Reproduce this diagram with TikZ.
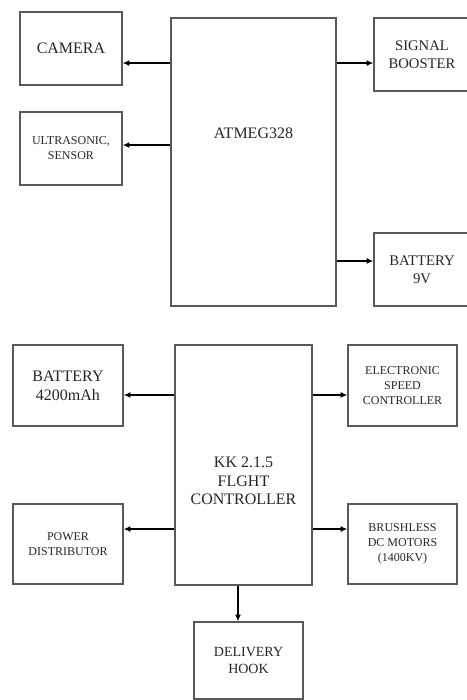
\documentclass[tikz,border=0pt]{standalone}
\usepackage{fontspec}
\setmainfont{Liberation Serif}
\usetikzlibrary{arrows.meta, positioning, calc}

\newcommand{\bigtext}{\fontsize{12}{14}\selectfont}
\newcommand{\midtext}{\fontsize{11}{13.5}\selectfont}
\newcommand{\hooktext}{\fontsize{10.5}{12.8}\selectfont}
\newcommand{\smalltext}{\fontsize{9}{11.3}\selectfont}

\begin{document}
\begin{tikzpicture}[
    x=0.75pt, y=-0.75pt,
    block/.style={draw=black!65, line width=1pt, rectangle, align=center, text=black!85, inner sep=1pt},
    sidebox/.style={block, minimum width=76.5pt, minimum height=54.75pt},
    rightbox/.style={block, minimum width=72pt, minimum height=54.75pt},
    unitbox/.style={block, minimum width=82.5pt, minimum height=60.75pt},
    flow/.style={-{Latex[length=5pt, width=4.5pt]}, line width=1pt}
]
\useasboundingbox (0,0) rectangle (467,700);

% upper board
\node[block, minimum width=123.75pt, minimum height=216pt,
      label={[font=\bigtext, text=black!85, yshift=21.75pt]center:ATMEG328}] (atmeg) at (253.5,162) {};
\node[sidebox, font=\bigtext] (camera) at (71,48.5) {CAMERA};
\node[sidebox, font=\smalltext] (ultra) at (71,148.5) {ULTRASONIC,\\SENSOR};
\node[rightbox, font=\midtext] (booster) at (422,54.5) {SIGNAL\\BOOSTER};
\node[rightbox, font=\midtext] (batnine) at (422,269.5) {BATTERY\\9V};

\draw[flow] ([yshift=-10.9pt]camera.east -| atmeg.west) -- ([yshift=-10.9pt]camera.east);
\draw[flow] ([yshift=2.6pt]ultra.east -| atmeg.west) -- ([yshift=2.6pt]ultra.east);
\draw[flow] ([yshift=-6.4pt]booster.west -| atmeg.east) -- ([yshift=-6.4pt]booster.west);
\draw[flow] ([yshift=6.4pt]batnine.west -| atmeg.east) -- ([yshift=6.4pt]batnine.west);

% flight controller board
\node[block, minimum width=102.75pt, minimum height=180pt,
      label={[font=\bigtext, text=black!85, align=center, yshift=-12pt]center:{KK 2.1.5\\FLGHT\\CONTROLLER}}] (kk) at (243.5,465) {};
\node[unitbox, font=\bigtext] (batbig) at (68,385.5) {BATTERY\\4200mAh};
\node[unitbox, font=\smalltext, minimum width=81.75pt] (esc) at (402.5,385.5) {ELECTRONIC\\SPEED\\CONTROLLER};
\node[unitbox, font=\smalltext, minimum height=60pt] (power) at (68,544) {POWER\\DISTRIBUTOR};
\node[unitbox, font=\smalltext, minimum width=81.75pt, minimum height=60pt] (motors) at (402.5,544) {BRUSHLESS\\DC MOTORS\\(1400KV)};
\node[block, font=\hooktext, minimum width=81.75pt, minimum height=57.75pt] (hook) at (248.5,660.5) {DELIVERY\\HOOK};

\draw[flow] ([yshift=-7.1pt]batbig.east -| kk.west) -- ([yshift=-7.1pt]batbig.east);
\draw[flow] ([yshift=-7.1pt]esc.west -| kk.east) -- ([yshift=-7.1pt]esc.west);
\draw[flow] ([yshift=11.25pt]power.east -| kk.west) -- ([yshift=11.25pt]power.east);
\draw[flow] ([yshift=11.25pt]motors.west -| kk.east) -- ([yshift=11.25pt]motors.west);
\draw[flow] ([xshift=-7.9pt]hook.north |- kk.south) -- ([xshift=-7.9pt]hook.north);
\end{tikzpicture}
\end{document}
